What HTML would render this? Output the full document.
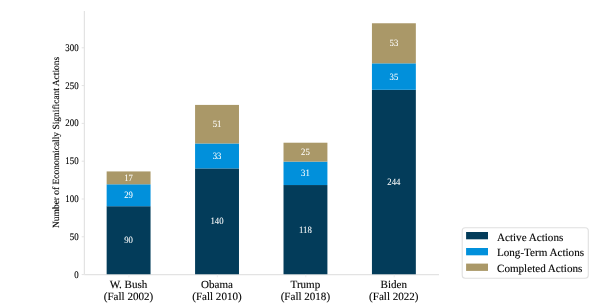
<!DOCTYPE html>
<html><head><meta charset="utf-8"><style>
html,body{margin:0;padding:0;background:#fff;width:594px;height:308px;overflow:hidden}
svg{display:block;font-family:"Liberation Serif",serif;text-rendering:geometricPrecision;will-change:transform}
</style></head><body>
<svg width="594" height="308" viewBox="0 0 594 308">
<line x1="84.4" y1="11" x2="84.4" y2="274.6" stroke="#e3e3e3" stroke-width="1.2"/>
<line x1="84.4" y1="274.6" x2="439.0" y2="274.6" stroke="#e3e3e3" stroke-width="1.2"/>
<line x1="81.7" y1="274.60" x2="84.4" y2="274.60" stroke="#e3e3e3" stroke-width="1.0"/>
<text transform="translate(78.60,277.57) scale(0.96000,1.10000)" text-anchor="end" font-size="9.20" fill="#000000" stroke="#000000" stroke-width="0.120">0</text>
<line x1="81.7" y1="236.80" x2="84.4" y2="236.80" stroke="#e3e3e3" stroke-width="1.0"/>
<text transform="translate(78.60,239.77) scale(0.96000,1.10000)" text-anchor="end" font-size="9.20" fill="#000000" stroke="#000000" stroke-width="0.120">50</text>
<line x1="81.7" y1="199.00" x2="84.4" y2="199.00" stroke="#e3e3e3" stroke-width="1.0"/>
<text transform="translate(78.60,201.97) scale(0.96000,1.10000)" text-anchor="end" font-size="9.20" fill="#000000" stroke="#000000" stroke-width="0.120">100</text>
<line x1="81.7" y1="161.20" x2="84.4" y2="161.20" stroke="#e3e3e3" stroke-width="1.0"/>
<text transform="translate(78.60,164.17) scale(0.96000,1.10000)" text-anchor="end" font-size="9.20" fill="#000000" stroke="#000000" stroke-width="0.120">150</text>
<line x1="81.7" y1="123.40" x2="84.4" y2="123.40" stroke="#e3e3e3" stroke-width="1.0"/>
<text transform="translate(78.60,126.37) scale(0.96000,1.10000)" text-anchor="end" font-size="9.20" fill="#000000" stroke="#000000" stroke-width="0.120">200</text>
<line x1="81.7" y1="85.60" x2="84.4" y2="85.60" stroke="#e3e3e3" stroke-width="1.0"/>
<text transform="translate(78.60,88.57) scale(0.96000,1.10000)" text-anchor="end" font-size="9.20" fill="#000000" stroke="#000000" stroke-width="0.120">250</text>
<line x1="81.7" y1="47.80" x2="84.4" y2="47.80" stroke="#e3e3e3" stroke-width="1.0"/>
<text transform="translate(78.60,50.77) scale(0.96000,1.10000)" text-anchor="end" font-size="9.20" fill="#000000" stroke="#000000" stroke-width="0.120">300</text>
<rect x="106.65" y="206.21" width="43.90" height="68.04" fill="#033C5A"/>
<rect x="106.65" y="184.29" width="43.90" height="21.92" fill="#0190DB"/>
<rect x="106.65" y="171.43" width="43.90" height="12.85" fill="#AA9868"/>
<text transform="translate(128.60,243.18) scale(0.97000,1.07000)" text-anchor="middle" font-size="9.00" fill="#ffffff" stroke="#ffffff" stroke-width="0.050">90</text>
<text transform="translate(128.60,198.20) scale(0.97000,1.07000)" text-anchor="middle" font-size="9.00" fill="#ffffff" stroke="#ffffff" stroke-width="0.050">29</text>
<text transform="translate(128.60,180.81) scale(0.97000,1.07000)" text-anchor="middle" font-size="9.00" fill="#ffffff" stroke="#ffffff" stroke-width="0.050">17</text>
<line x1="128.90" y1="274.8" x2="128.90" y2="277.3" stroke="#ececec" stroke-width="0.9"/>
<text transform="translate(128.50,287.60) scale(1.00000,1.00000)" text-anchor="middle" font-size="11.05" fill="#000000" stroke="#000000" stroke-width="0.120">W. Bush</text>
<text transform="translate(128.50,300.10) scale(1.00000,1.00000)" text-anchor="middle" font-size="11.05" fill="#000000" stroke="#000000" stroke-width="0.120">(Fall 2002)</text>
<rect x="195.08" y="168.41" width="43.90" height="105.84" fill="#033C5A"/>
<rect x="195.08" y="143.46" width="43.90" height="24.95" fill="#0190DB"/>
<rect x="195.08" y="104.91" width="43.90" height="38.56" fill="#AA9868"/>
<text transform="translate(217.03,224.28) scale(0.97000,1.07000)" text-anchor="middle" font-size="9.00" fill="#ffffff" stroke="#ffffff" stroke-width="0.050">140</text>
<text transform="translate(217.03,158.89) scale(0.97000,1.07000)" text-anchor="middle" font-size="9.00" fill="#ffffff" stroke="#ffffff" stroke-width="0.050">33</text>
<text transform="translate(217.03,127.14) scale(0.97000,1.07000)" text-anchor="middle" font-size="9.00" fill="#ffffff" stroke="#ffffff" stroke-width="0.050">51</text>
<line x1="217.33" y1="274.8" x2="217.33" y2="277.3" stroke="#ececec" stroke-width="0.9"/>
<text transform="translate(216.93,287.60) scale(1.00000,1.00000)" text-anchor="middle" font-size="11.05" fill="#000000" stroke="#000000" stroke-width="0.120">Obama</text>
<text transform="translate(216.93,300.10) scale(1.00000,1.00000)" text-anchor="middle" font-size="11.05" fill="#000000" stroke="#000000" stroke-width="0.120">(Fall 2010)</text>
<rect x="283.51" y="185.04" width="43.90" height="89.21" fill="#033C5A"/>
<rect x="283.51" y="161.61" width="43.90" height="23.44" fill="#0190DB"/>
<rect x="283.51" y="142.71" width="43.90" height="18.90" fill="#AA9868"/>
<text transform="translate(305.46,232.60) scale(0.97000,1.07000)" text-anchor="middle" font-size="9.00" fill="#ffffff" stroke="#ffffff" stroke-width="0.050">118</text>
<text transform="translate(305.46,176.28) scale(0.97000,1.07000)" text-anchor="middle" font-size="9.00" fill="#ffffff" stroke="#ffffff" stroke-width="0.050">31</text>
<text transform="translate(305.46,155.11) scale(0.97000,1.07000)" text-anchor="middle" font-size="9.00" fill="#ffffff" stroke="#ffffff" stroke-width="0.050">25</text>
<line x1="305.76" y1="274.8" x2="305.76" y2="277.3" stroke="#ececec" stroke-width="0.9"/>
<text transform="translate(305.36,287.60) scale(1.00000,1.00000)" text-anchor="middle" font-size="11.05" fill="#000000" stroke="#000000" stroke-width="0.120">Trump</text>
<text transform="translate(305.36,300.10) scale(1.00000,1.00000)" text-anchor="middle" font-size="11.05" fill="#000000" stroke="#000000" stroke-width="0.120">(Fall 2018)</text>
<rect x="371.94" y="89.79" width="43.90" height="184.46" fill="#033C5A"/>
<rect x="371.94" y="63.33" width="43.90" height="26.46" fill="#0190DB"/>
<rect x="371.94" y="23.26" width="43.90" height="40.07" fill="#AA9868"/>
<text transform="translate(393.89,184.97) scale(0.97000,1.07000)" text-anchor="middle" font-size="9.00" fill="#ffffff" stroke="#ffffff" stroke-width="0.050">244</text>
<text transform="translate(393.89,79.51) scale(0.97000,1.07000)" text-anchor="middle" font-size="9.00" fill="#ffffff" stroke="#ffffff" stroke-width="0.050">35</text>
<text transform="translate(393.89,46.25) scale(0.97000,1.07000)" text-anchor="middle" font-size="9.00" fill="#ffffff" stroke="#ffffff" stroke-width="0.050">53</text>
<line x1="394.19" y1="274.8" x2="394.19" y2="277.3" stroke="#ececec" stroke-width="0.9"/>
<text transform="translate(393.79,287.60) scale(1.00000,1.00000)" text-anchor="middle" font-size="11.05" fill="#000000" stroke="#000000" stroke-width="0.120">Biden</text>
<text transform="translate(393.79,300.10) scale(1.00000,1.00000)" text-anchor="middle" font-size="11.05" fill="#000000" stroke="#000000" stroke-width="0.120">(Fall 2022)</text>
<text transform="translate(58.50,142.40) rotate(-90) scale(1.00000,1.00000)" text-anchor="middle" font-size="9.46" fill="#000000" stroke="#000000" stroke-width="0.120">Number of Economically Significant Actions</text>
<rect x="462.2" y="227.8" width="126.1" height="50.5" rx="3" fill="#fff" stroke="#e0e0e0" stroke-width="1.1"/>
<rect x="466.1" y="232" width="21.9" height="7.3" fill="#033C5A"/>
<text transform="translate(497.00,240.50) scale(1.00000,1.00000)" text-anchor="start" font-size="11.10" fill="#000000" stroke="#000000" stroke-width="0.120">Active Actions</text>
<rect x="466.1" y="248" width="21.9" height="7.3" fill="#0190DB"/>
<text transform="translate(497.00,256.40) scale(1.00000,1.00000)" text-anchor="start" font-size="11.10" fill="#000000" stroke="#000000" stroke-width="0.120">Long-Term Actions</text>
<rect x="466.1" y="263.6" width="21.9" height="7.3" fill="#AA9868"/>
<text transform="translate(497.00,271.60) scale(1.00000,1.00000)" text-anchor="start" font-size="11.10" fill="#000000" stroke="#000000" stroke-width="0.120">Completed Actions</text>
</svg>
</body></html>
